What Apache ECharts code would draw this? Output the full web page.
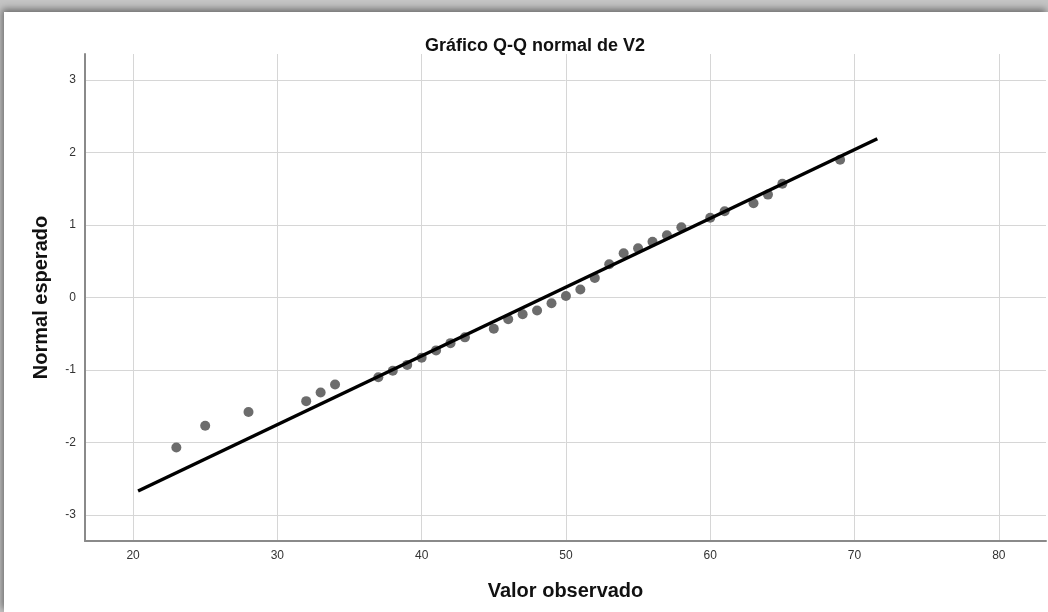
<!DOCTYPE html>
<html>
<head>
<meta charset="utf-8">
<script src="https://cdn.jsdelivr.net/npm/echarts@6/dist/echarts.min.js"></script>
<style>
    html, body {margin: 0; padding: 0; width: 1048px; height: 612px; overflow: hidden; background: #c4c4c4;}
    #frame {position: absolute; left: 4px; top: 12px; width: 1044px; height: 600px; background: #fff;
        box-shadow: -2px -3px 7px rgba(0, 0, 0, 0.45);}
    #chart {width: 1044px; height: 600px;}
</style>
</head>
<body>
<div id="frame"><div id="chart"></div></div>
<script>
let observed = [23, 25, 28, 32, 33, 34, 37, 38, 39, 40, 41, 42, 43, 45, 46, 47, 48, 49, 50, 51,
    52, 53, 54, 55, 56, 57, 58, 60, 61, 63, 64, 65, 69];
let expected = [-2.07, -1.77, -1.58, -1.43, -1.31, -1.20, -1.10, -1.01, -0.93, -0.83, -0.73, -0.63, -0.55, -0.43, -0.30, -0.23, -0.18, -0.08, 0.02, 0.11,
    0.27, 0.46, 0.61, 0.68, 0.77, 0.86, 0.97, 1.10, 1.19, 1.30, 1.42, 1.57, 1.90];

// recta de referencia (extremos)
let lineX = [20.35, 71.58];
let lineY = [-2.67, 2.19];

let xTicks = [20, 30, 40, 50, 60, 70, 80];
let yTicks = [-3, -2, -1, 0, 1, 2, 3];

let points = observed.map(function (v, i) {
    return [v, expected[i]];
});
let refLine = lineX.map(function (v, i) {
    return [v, lineY[i]];
});

let font = '"Liberation Sans", Arial, sans-serif';

let option = {
    animation: false,
    title: {
        text: 'Gráfico Q-Q normal de V2',
        left: 526,
        textAlign: 'center',
        top: 20,
        textStyle: {
            fontFamily: font,
            fontSize: 18,
            fontWeight: 'bold',
            color: '#111'
        }
    },
    grid: {
        left: 81,
        right: 2,
        top: 42,
        bottom: 71
    },
    xAxis: {
        type: 'value',
        min: 16.67,
        max: 83.27,
        name: 'Valor observado',
        nameLocation: 'middle',
        nameGap: 40,
        nameTextStyle: {
            fontFamily: font,
            fontSize: 20,
            fontWeight: 'bold',
            color: '#111'
        },
        axisLine: {
            show: true,
            onZero: false,
            lineStyle: {color: '#8a8a8a', width: 2}
        },
        axisTick: {show: false, customValues: xTicks},
        axisLabel: {
            customValues: xTicks,
            margin: 9,
            fontFamily: font,
            fontSize: 12,
            color: '#333'
        },
        splitLine: {
            show: true,
            lineStyle: {color: '#d6d6d6', width: 1}
        }
    },
    yAxis: {
        type: 'value',
        min: -3.36,
        max: 3.36,
        name: 'Normal esperado',
        nameLocation: 'middle',
        nameGap: 34,
        nameTextStyle: {
            fontFamily: font,
            fontSize: 20,
            fontWeight: 'bold',
            color: '#111'
        },
        axisLine: {
            show: true,
            onZero: false,
            lineStyle: {color: '#8a8a8a', width: 2}
        },
        axisTick: {show: false, customValues: yTicks},
        axisLabel: {
            customValues: yTicks,
            margin: 9,
            fontFamily: font,
            fontSize: 12,
            color: '#333'
        },
        splitLine: {
            show: true,
            lineStyle: {color: '#d6d6d6', width: 1}
        }
    },
    series: [
        {
            type: 'scatter',
            data: points,
            symbolSize: 10,
            itemStyle: {color: '#6c6c6c', opacity: 1},
            z: 2
        },
        {
            type: 'line',
            data: refLine,
            symbol: 'none',
            lineStyle: {color: '#000', width: 3.5},
            z: 3
        }
    ]
};

let chart = echarts.init(document.getElementById('chart'));
chart.setOption(option);
</script>
</body>
</html>
